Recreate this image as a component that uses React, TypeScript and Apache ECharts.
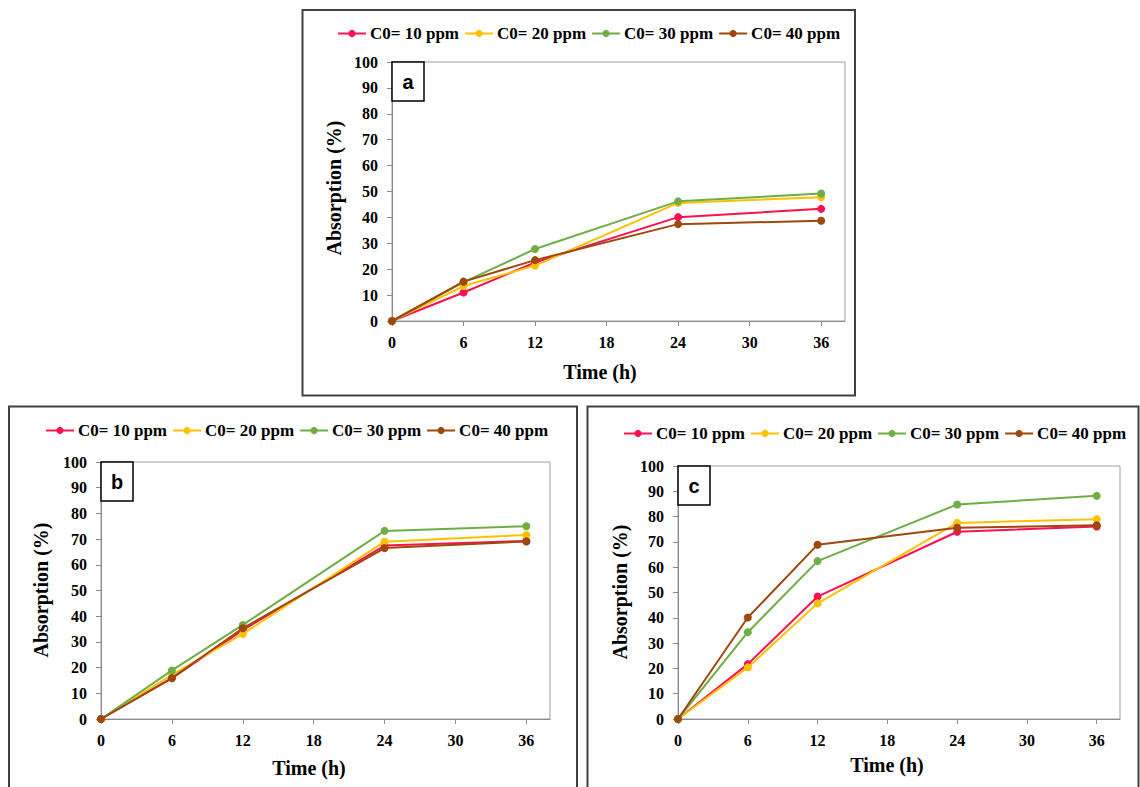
import React, { useEffect, useRef } from "react";
import * as echarts from "echarts";

const hours = [0, 6, 12, 24, 36];
const seriesNames = ["C0= 10 ppm", "C0= 20 ppm", "C0= 30 ppm", "C0= 40 ppm"];
const seriesColors = ["#FF1050", "#FFC000", "#70AD47", "#9E480E"];

const panelA = [
  [0, 11.0, 22.6, 40.1, 43.3],
  [0, 13.5, 21.4, 45.6, 47.8],
  [0, 15.0, 27.8, 46.2, 49.2],
  [0, 15.2, 23.5, 37.4, 38.7],
];
const panelB = [
  [0, 15.9, 34.6, 67.5, 69.3],
  [0, 17.2, 33.1, 69.0, 71.6],
  [0, 18.9, 36.6, 73.2, 75.0],
  [0, 15.9, 35.3, 66.5, 69.1],
];
const panelC = [
  [0, 21.7, 48.4, 74.0, 76.1],
  [0, 20.4, 45.7, 77.5, 79.0],
  [0, 34.3, 62.4, 84.8, 88.2],
  [0, 40.1, 68.9, 75.6, 76.6],
];
const panelLetters = ["a", "b", "c"];
const xTicks = [0, 6, 12, 18, 24, 30, 36];
const xTitle = "Time (h)";
const yTitle = "Absorption (%)";

const panels = [panelA, panelB, panelC];

// layout (pixels)
const grids = [
  { left: 392, top: 62, width: 453, height: 259 },
  { left: 101, top: 462, width: 449, height: 257 },
  { left: 678, top: 466, width: 442, height: 253 },
];
const legendPos = [
  { left: 332, top: 20 },
  { left: 40, top: 417 },
  { left: 618, top: 420 },
];
const outerBoxes = [
  { x: 302.5, y: 10, width: 552.5, height: 385.5 },
  { x: 9, y: 406.5, width: 568, height: 420 },
  { x: 587.5, y: 406.5, width: 551, height: 420 },
];
const xTitlePos = [
  { x: 600, y: 372 },
  { x: 309, y: 768 },
  { x: 887, y: 765 },
];
const yTitlePos = [
  { x: 334, y: 188 },
  { x: 41, y: 590 },
  { x: 620, y: 592 },
];

const serif = "'Liberation Serif', 'Times New Roman', serif";

export default function App() {
  const ref = useRef<HTMLDivElement>(null);
  useEffect(() => {
    if (!ref.current) return;
    const chart = echarts.init(ref.current, undefined, { renderer: "svg" });

    const xAxis = grids.map((_, i) => ({
      type: "value",
      gridIndex: i,
      min: 0,
      max: 38,
      axisLine: { show: true, lineStyle: { color: "#8a8a8a", width: 1 } },
      axisTick: { show: true, length: 5, customValues: xTicks, lineStyle: { color: "#8a8a8a" } },
      axisLabel: {
        customValues: xTicks,
        margin: 13,
        color: "#000",
        fontFamily: serif,
        fontWeight: "bold",
        fontSize: 16,
      },
      splitLine: { show: false },
    }));
    const yAxis = grids.map((_, i) => ({
      type: "value",
      gridIndex: i,
      min: 0,
      max: 100,
      interval: 10,
      axisLine: { show: true, lineStyle: { color: "#8a8a8a", width: 1 } },
      axisTick: { show: true, length: 5, lineStyle: { color: "#8a8a8a" } },
      axisLabel: {
        margin: 14,
        color: "#000",
        fontFamily: serif,
        fontWeight: "bold",
        fontSize: 16,
      },
      splitLine: { show: false },
    }));

    const series: any[] = [];
    panels.forEach((panel, p) => {
      panel.forEach((vals, s) => {
        series.push({
          type: "line",
          name: seriesNames[s],
          xAxisIndex: p,
          yAxisIndex: p,
          data: hours.map((h, k) => [h, vals[k]]),
          symbol: "circle",
          symbolSize: 8,
          color: seriesColors[s],
          lineStyle: { width: 2, color: seriesColors[s] },
          itemStyle: { color: seriesColors[s] },
          z: 2 + s,
        });
      });
    });

    const legend = legendPos.map((pos) => ({
      left: pos.left,
      top: pos.top,
      orient: "horizontal",
      itemWidth: 28,
      itemHeight: 9,
      itemGap: 5,
      data: seriesNames,
      textStyle: {
        color: "#000",
        fontFamily: serif,
        fontWeight: "bold",
        fontSize: 17,
        padding: [0, 0, 0, -1],
      },
    }));

    const graphic: any[] = [];
    outerBoxes.forEach((b) => {
      graphic.push({
        type: "rect",
        shape: { x: b.x, y: b.y, width: b.width, height: b.height },
        style: { fill: "none", stroke: "#404040", lineWidth: 2 },
        silent: true,
        z: 1,
      });
    });
    grids.forEach((g, i) => {
      graphic.push({
        type: "rect",
        shape: { x: g.left, y: g.top, width: 32, height: 39 },
        style: { fill: "#fff", stroke: "#000", lineWidth: 1.5 },
        z: 20,
      });
      graphic.push({
        type: "text",
        x: g.left + 16,
        y: g.top + 19.5,
        style: {
          text: panelLetters[i],
          fontFamily: "'Liberation Sans', Arial, sans-serif",
          fontWeight: "bold",
          fontSize: 20,
          fill: "#000",
          align: "center",
          verticalAlign: "middle",
        },
        z: 21,
      });
      graphic.push({
        type: "text",
        x: xTitlePos[i].x,
        y: xTitlePos[i].y,
        style: {
          text: xTitle,
          fontFamily: serif,
          fontWeight: "bold",
          fontSize: 20,
          fill: "#000",
          align: "center",
          verticalAlign: "middle",
        },
        z: 21,
      });
      graphic.push({
        type: "text",
        x: yTitlePos[i].x,
        y: yTitlePos[i].y,
        rotation: Math.PI / 2,
        style: {
          text: yTitle,
          fontFamily: serif,
          fontWeight: "bold",
          fontSize: 20,
          fill: "#000",
          align: "center",
          verticalAlign: "middle",
        },
        z: 21,
      });
    });

    chart.setOption({
      animation: false,
      backgroundColor: "#fff",
      grid: grids.map((g) => ({
        left: g.left,
        top: g.top,
        width: g.width,
        height: g.height,
        show: true,
        borderColor: "#a0a0a0",
        borderWidth: 1,
        containLabel: false,
      })),
      xAxis,
      yAxis,
      legend,
      series,
      graphic,
    });
    return () => chart.dispose();
  }, []);
  return (
    <div
      ref={ref}
      style={{ position: "absolute", left: 0, top: 0, width: 1140, height: 787 }}
    />
  );
}
